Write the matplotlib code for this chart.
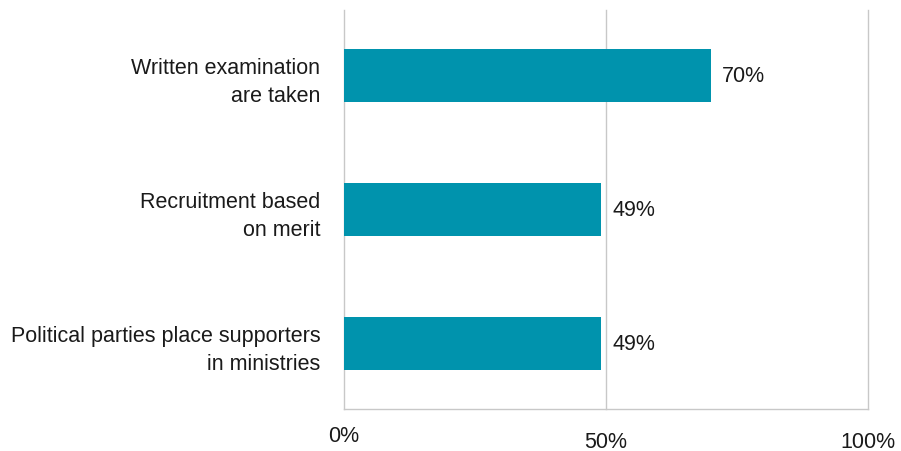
import matplotlib
matplotlib.use('Agg')
import matplotlib.pyplot as plt
import matplotlib.transforms as mtransforms

plt.rcParams['font.family'] = ['Liberation Sans', 'DejaVu Sans']

# data
categories = ['Written examination\nare taken',
              'Recruitment based\non merit',
              'Political parties place supporters\nin ministries']
values = [70, 49, 49]
xticks = [0, 50, 100]
xtick_labels = ['0%', '50%', '100%']

bar_color = '#0093AD'
grid_color = '#C8C8C8'
text_color = '#1a1a1a'
fs = 15.5

fig = plt.figure(figsize=(9.01, 4.52), dpi=100)
ax = fig.add_axes([344 / 901, 1 - 410 / 452, 524 / 901, 399 / 452])

ypos = list(range(len(categories)))
ax.barh(ypos, values, height=0.4, color=bar_color, zorder=2)

# value labels next to the bars
for y, v in zip(ypos, values):
    ax.text(v + 2.2, y, f'{v}%', va='center', ha='left', fontsize=fs, color=text_color)

ax.set_xlim(0, 100)
ax.set_ylim(len(categories) - 0.511, -0.489)
ax.set_yticks(ypos)
ax.set_yticklabels(categories, fontsize=fs, color=text_color)
for t in ax.get_yticklabels():
    t.set_linespacing(1.45)
ax.set_xticks(xticks)
ax.set_xticklabels(xtick_labels, fontsize=fs, color=text_color)

ax.tick_params(axis='y', length=0, pad=17)
ax.tick_params(axis='x', length=0, pad=15.5)

# the 0% label sits a bit higher in the original
lbl = ax.get_xticklabels()[0]
lbl.set_transform(lbl.get_transform() + mtransforms.ScaledTranslation(0, 6 / 100, fig.dpi_scale_trans))

# vertical grid lines (not clipped so the 100% one is full width)
for x in xticks:
    ax.axvline(x, color=grid_color, linewidth=1, zorder=0, clip_on=False)
for s in ['top', 'right', 'left']:
    ax.spines[s].set_visible(False)
ax.spines['bottom'].set_color(grid_color)
ax.spines['bottom'].set_linewidth(1)

fig.savefig('out.png', dpi=100)
